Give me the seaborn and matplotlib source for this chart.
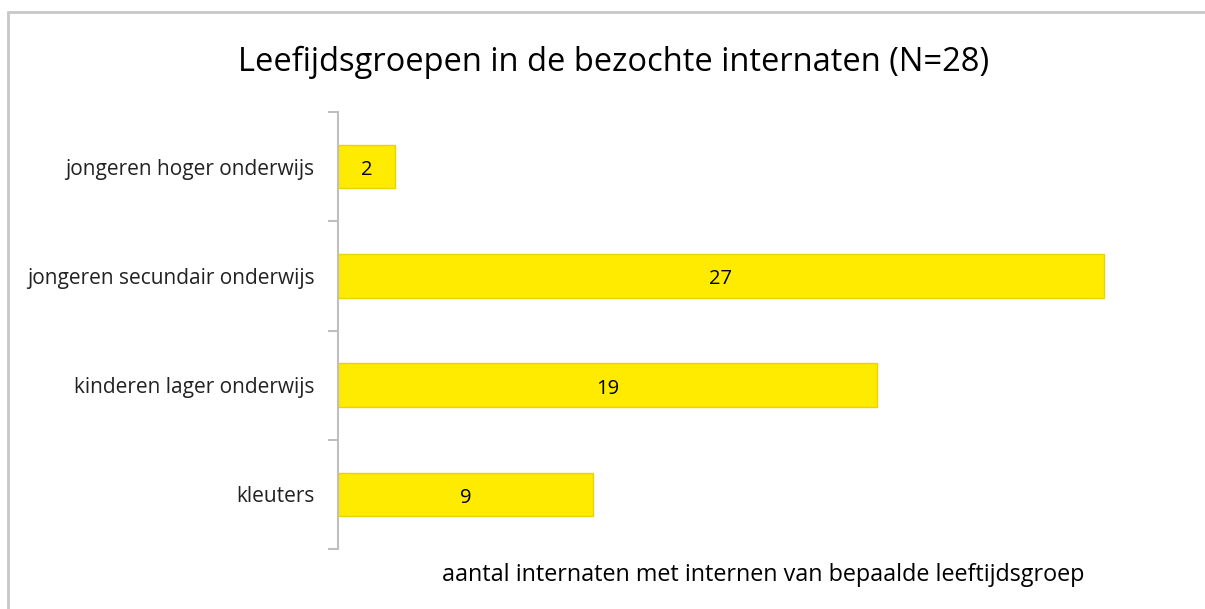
import pandas as pd
import seaborn as sns
from matplotlib import pyplot as plt
from matplotlib.lines import Line2D

categories = ['jongeren hoger onderwijs', 'jongeren secundair onderwijs',
              'kinderen lager onderwijs', 'kleuters']
counts = [2, 27, 19, 9]
title = 'Leefijdsgroepen in de bezochte internaten (N=28)'
xlabel = 'aantal internaten met internen van bepaalde leeftijdsgroep'

df = pd.DataFrame({'groep': categories, 'aantal': counts})

sns.set_style('white')
plt.rcParams['font.family'] = ['Open Sans', 'DejaVu Sans']

fig = plt.figure(figsize=(12.05, 6.09), dpi=100)
ax = fig.add_axes([0.2805, 0.0985, 0.706, 0.7176])

sns.barplot(data=df, x='aantal', y='groep', color='#FFEB00', saturation=1,
            width=0.4, edgecolor='#E8D400', linewidth=1, ax=ax)
ax.set_xlim(0, 30)
ax.set_ylim(3.5, -0.5)

for c in ax.containers:
    labels = ax.bar_label(c, label_type='center', fontsize=14.5, color='black')
    for t in labels:
        t.xyann = (0, -2.5)  # sit a little lower, like the original

# category separators as ticks on the value axis
ax.set_yticks([i - 0.5 for i in range(len(categories) + 1)], minor=False)
ax.set_yticklabels([])
ax.set_yticks(range(len(categories)), minor=True)
ax.set_yticklabels(categories, minor=True, fontsize=15, color='#222222')
ax.tick_params(axis='y', which='major', left=True, length=7, width=1.5, color='#BFBFBF')
ax.tick_params(axis='y', which='minor', left=False, pad=15)
ax.set_ylabel('')
ax.set_xticks([])
ax.set_xlabel('')

for s in ['top', 'right', 'bottom']:
    ax.spines[s].set_visible(False)
ax.spines['left'].set_color('#BFBFBF')
ax.spines['left'].set_linewidth(1.5)

fig.text(0.509, 0.897, title, ha='center', va='center', fontsize=23.5, color='black')
fig.text(0.633, 0.056, xlabel, ha='center', va='center', fontsize=16.8, color='black')

# chart frame (top and left edges visible)
fig.add_artist(Line2D([8 / 1205, 1.0], [1 - 12 / 609, 1 - 12 / 609], transform=fig.transFigure,
                      color='#C8C8C8', linewidth=2))
fig.add_artist(Line2D([8 / 1205, 8 / 1205], [0, 1 - 12 / 609], transform=fig.transFigure,
                      color='#C8C8C8', linewidth=2))

fig.savefig('out.png', dpi=100)
